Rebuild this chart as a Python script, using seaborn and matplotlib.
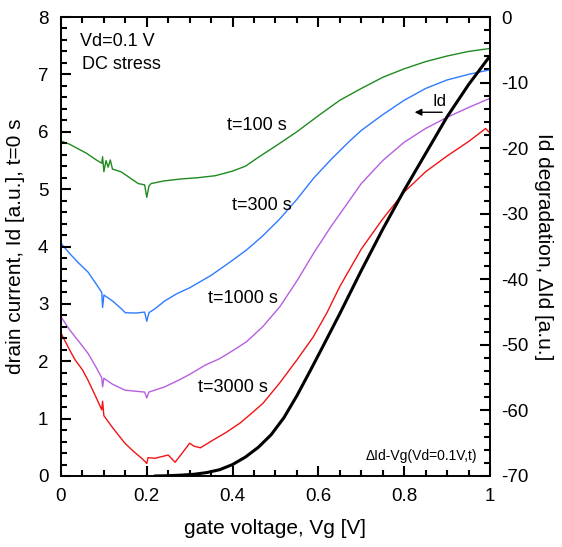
"""Id-Vg degradation under DC stress: Id at t=0 (left) and delta Id vs time (right)."""

import matplotlib

matplotlib.use("Agg")
import matplotlib.pyplot as plt
import pandas as pd
import seaborn as sns
from matplotlib.ticker import MultipleLocator

# fresh device, left axis [a.u.]
vg_id0 = [0.22, 0.25, 0.28, 0.31, 0.34, 0.37, 0.40, 0.43, 0.46, 0.49, 0.52, 0.55,
          0.58, 0.61, 0.65, 0.70, 0.75, 0.80, 0.85, 0.90, 0.95, 1.00]
id0 = [0.0, 0.005, 0.015, 0.03, 0.06, 0.11, 0.20, 0.33, 0.50, 0.72, 1.02, 1.40,
       1.82, 2.25, 2.83, 3.58, 4.30, 4.98, 5.62, 6.26, 6.82, 7.32]

# degradation curves, right axis [a.u.]
vg_100 = [0.00, 0.02, 0.04, 0.06, 0.08, 0.095, 0.097, 0.10, 0.105, 0.11, 0.115, 0.12,
          0.14, 0.16, 0.18, 0.195, 0.20, 0.205, 0.21, 0.24, 0.28, 0.32, 0.36, 0.40,
          0.43, 0.46, 0.50, 0.55, 0.60, 0.65, 0.70, 0.75, 0.80, 0.85, 0.90, 0.95, 1.00]
d_100 = [-18.9, -19.4, -20.1, -20.8, -21.7, -22.3, -21.3, -23.6, -21.9, -22.9, -21.8, -23.2,
         -23.6, -24.5, -25.4, -25.6, -27.5, -25.8, -25.4, -25.0, -24.7, -24.5, -24.2, -23.5,
         -22.75, -21.4, -19.7, -17.5, -15.05, -12.7, -10.9, -9.2, -7.9, -6.8, -5.95, -5.25, -4.8]

vg_300 = [0.00, 0.02, 0.04, 0.063, 0.086, 0.095, 0.097, 0.10, 0.12, 0.14, 0.15, 0.175,
          0.195, 0.20, 0.205, 0.22, 0.242, 0.27, 0.30, 0.35, 0.40, 0.433, 0.47, 0.51,
          0.55, 0.59, 0.63, 0.67, 0.70, 0.75, 0.80, 0.85, 0.90, 0.95, 1.00]
d_300 = [-34.5, -36.05, -37.45, -38.9, -41.1, -42.0, -44.3, -42.4, -43.3, -44.45, -45.1, -45.15,
         -45.0, -46.4, -45.1, -44.45, -43.3, -42.2, -41.3, -39.4, -37.1, -35.5, -33.4, -30.8,
         -27.8, -24.5, -21.7, -19.1, -17.3, -14.9, -12.7, -10.9, -9.6, -8.75, -8.05]

vg_1000 = [0.00, 0.02, 0.04, 0.063, 0.08, 0.095, 0.097, 0.10, 0.12, 0.149, 0.17, 0.195,
           0.20, 0.205, 0.242, 0.277, 0.30, 0.336, 0.37, 0.40, 0.433, 0.47, 0.51, 0.55,
           0.59, 0.63, 0.67, 0.70, 0.75, 0.80, 0.85, 0.90, 0.95, 1.00]
d_1000 = [-45.7, -47.7, -49.35, -51.3, -53.2, -55.0, -56.4, -55.1, -56.0, -56.9, -57.05, -57.2,
          -58.1, -57.2, -56.4, -55.3, -54.5, -53.1, -52.1, -50.9, -49.5, -47.25, -44.2, -40.25,
          -35.9, -31.9, -28.2, -25.4, -21.9, -19.1, -17.0, -15.3, -13.8, -12.4]

vg_3000 = [0.00, 0.02, 0.033, 0.05, 0.063, 0.08, 0.095, 0.097, 0.10, 0.12, 0.149, 0.17,
           0.19, 0.20, 0.203, 0.219, 0.25, 0.266, 0.285, 0.30, 0.31, 0.325, 0.355, 0.385,
           0.417, 0.445, 0.471, 0.51, 0.55, 0.588, 0.62, 0.65, 0.70, 0.75, 0.80, 0.85,
           0.90, 0.95, 0.99, 1.00]
d_3000 = [-48.2, -50.75, -52.3, -53.8, -55.4, -57.75, -59.9, -58.6, -60.8, -62.6, -65.0, -66.3,
          -67.4, -68.1, -67.2, -67.3, -66.8, -67.9, -66.3, -65.0, -65.45, -65.7, -64.5, -63.35,
          -61.95, -60.4, -58.9, -55.8, -52.3, -48.8, -45.1, -41.1, -35.4, -30.8, -26.7, -23.6,
          -21.2, -19.0, -17.0, -17.7]

stress_curves = [
    (vg_100, d_100, "#1f8a1f", "t=100 s"),
    (vg_300, d_300, "#2f7bff", "t=300 s"),
    (vg_1000, d_1000, "#b65fe0", "t=1000 s"),
    (vg_3000, d_3000, "#f01414", "t=3000 s"),
]
# label positions in left-axis units
label_pos = [(0.457, 6.11), (0.469, 4.72), (0.424, 3.10), (0.401, 1.55)]

plt.rcParams["font.family"] = ["Liberation Sans", "DejaVu Sans"]
plt.rcParams["axes.unicode_minus"] = False

RECT = [0.1085, 0.1298, 0.7633, 0.8391]
fig = plt.figure(figsize=(5.62, 5.47), dpi=100)
# right-hand (degradation) axes first, underneath; t=0 axes on top
ax2 = fig.add_axes(RECT, label="degradation")
ax = fig.add_axes(RECT, label="fresh", sharex=ax2)
ax.patch.set_alpha(0.0)

for vg, d, color, _ in stress_curves:
    sns.lineplot(x=vg, y=d, ax=ax2, color=color, lw=1.0, errorbar=None)

df0 = pd.DataFrame({"Vg": vg_id0, "Id": id0})
sns.lineplot(data=df0, x="Vg", y="Id", ax=ax, color="black", lw=2.2, errorbar=None)

ax.set_xlim(0, 1)
ax.set_ylim(0, 8)
ax2.set_ylim(-70, 0)
ax.xaxis.set_major_locator(MultipleLocator(0.2))
ax.xaxis.set_minor_locator(MultipleLocator(0.05))
ax.yaxis.set_major_locator(MultipleLocator(1))
ax.yaxis.set_minor_locator(MultipleLocator(0.2))
ax2.yaxis.set_major_locator(MultipleLocator(10))
ax2.yaxis.set_minor_locator(MultipleLocator(2))
ax.xaxis.set_major_formatter(lambda v, _: f"{v:g}")

ax2.yaxis.tick_right()
ax2.yaxis.set_label_position("right")
ax2.tick_params(axis="x", which="both", bottom=False, top=False,
                labelbottom=False, labeltop=False)
ax2.tick_params(axis="y", which="major", direction="in", left=False, right=True,
                length=7, width=1.5, color="black", labelsize=13.5, pad=8)
ax2.tick_params(axis="y", which="minor", direction="in", left=False, right=True,
                length=4, width=1.5, color="black")

ax.tick_params(axis="both", which="major", direction="in", bottom=True, top=True,
               left=True, right=False, length=7, width=1.5, color="black",
               labelsize=13.5, pad=9)
ax.tick_params(axis="both", which="minor", direction="in", bottom=True, top=True,
               left=True, right=False, length=4, width=1.5, color="black")
for a in (ax, ax2):
    for s in a.spines.values():
        s.set_linewidth(1.2)

ax.set_xlabel("gate voltage, Vg [V]", fontsize=15, labelpad=10)
ax.set_ylabel("drain current, Id [a.u.], t=0 s", fontsize=15, labelpad=9)
ax2.set_xlabel("")
ax2.set_ylabel("Id degradation, \u0394Id [a.u.]", fontsize=15, rotation=270,
               va="bottom", labelpad=4)

ax.text(0.044, 7.58, "Vd=0.1 V", fontsize=13, va="center")
ax.text(0.049, 7.18, "DC stress", fontsize=13, va="center")
for (x, y), (_, _, _, label) in zip(label_pos, stress_curves):
    ax.text(x, y, label, fontsize=13, ha="center", va="center")
ax.text(0.97, 0.35, "\u0394Id-Vg(Vd=0.1V,t)", fontsize=10, ha="right", va="center")

ax.annotate("", xy=(0.818, 6.34), xytext=(0.895, 6.34),
            arrowprops=dict(arrowstyle="-|>", color="black", lw=1.0,
                            mutation_scale=10))
ax.text(0.883, 6.52, "Id", fontsize=12, ha="center", va="center")

fig.savefig("out.png", dpi=100)
plt.close(fig)
